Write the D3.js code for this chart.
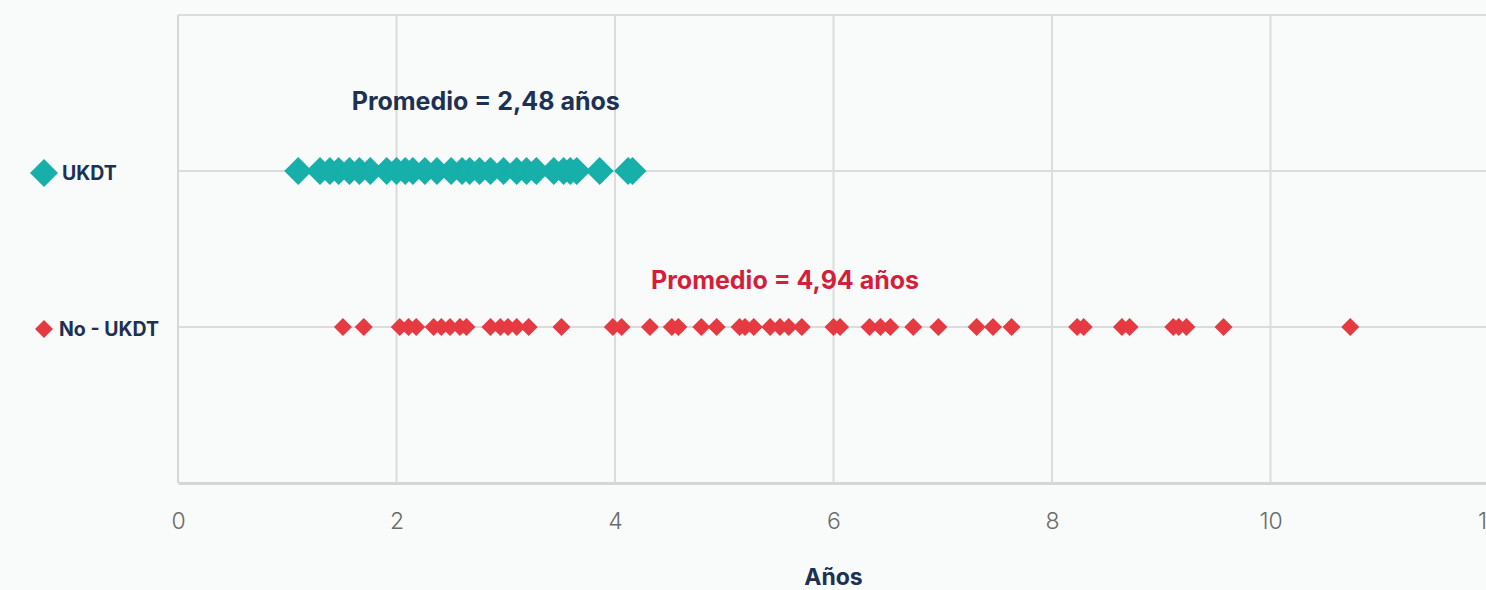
<!DOCTYPE html>
<html>
<head>
<meta charset="utf-8">
<script src="https://cdn.jsdelivr.net/npm/d3@7"></script>
<style>
  html, body { margin: 0; padding: 0; background: #f9fbfa; overflow: hidden; }
  svg { display: block; font-family: Inter, Roboto, sans-serif; }
</style>
</head>
<body>
<svg id="chart" width="1486" height="590"></svg>
<script>
const categories = ['UKDT', 'No - UKDT']
const ukdtValues = [1.10, 1.30, 1.39, 1.47, 1.57, 1.66, 1.76, 1.91, 2.00, 2.08, 2.15, 2.26, 2.37, 2.50,
  2.60, 2.67, 2.76, 2.86, 2.98, 3.10, 3.19, 3.28, 3.44, 3.53, 3.59, 3.65, 3.86, 4.12, 4.16]
const noUkdtValues = [1.51, 1.70, 2.03, 2.11, 2.18, 2.34, 2.41, 2.49, 2.58, 2.64, 2.86, 2.95, 3.02, 3.10,
  3.21, 3.51, 3.98, 4.06, 4.32, 4.52, 4.58, 4.79, 4.93, 5.14, 5.19, 5.27, 5.42, 5.51, 5.59, 5.71,
  6.00, 6.06, 6.33, 6.43, 6.52, 6.73, 6.96, 7.31, 7.46, 7.63, 8.23, 8.29, 8.64, 8.71, 9.11, 9.16,
  9.23, 9.57, 10.73]
const xTicks = [0, 2, 4, 6, 8, 10, 12]
const annotations = [
  { text: 'Promedio = 2,48 años', x: 1.59, row: 0, dy: -61 },
  { text: 'Promedio = 4,94 años', x: 4.33, row: 1, dy: -38 }
]

const colors = ['#17afa9', '#e63a42']
const textColors = ['#1d3154', '#d21f3a']
const navy = '#1d3154'

const svg = d3.select('#chart')
const margin = { left: 178, top: 15, bottom: 483 }

const x = d3.scaleLinear().domain([0, 12]).range([margin.left, 1489])
// rows sit on 1 and 2, with an empty band above and below
const y = d3.scaleLinear().domain([0, 3]).range([margin.top, margin.bottom])

const grid = svg.append('g').attr('class', 'grid')

grid.selectAll('line.vgrid')
  .data(xTicks.slice(1))
  .enter().append('line')
  .attr('class', 'vgrid')
  .attr('x1', d => x(d)).attr('x2', d => x(d))
  .attr('y1', y(0)).attr('y2', y(3))
  .attr('stroke', '#dcdcdc').attr('stroke-width', 2)

grid.selectAll('line.hgrid')
  .data([0, 1, 2])
  .enter().append('line')
  .attr('class', 'hgrid')
  .attr('x1', x(0)).attr('x2', 1486)
  .attr('y1', d => y(d)).attr('y2', d => y(d))
  .attr('stroke', '#dcdcdc').attr('stroke-width', 2)

// left border
grid.append('line')
  .attr('x1', x(0)).attr('x2', x(0))
  .attr('y1', y(0)).attr('y2', y(3))
  .attr('stroke', '#d6d6d6').attr('stroke-width', 2)

const xAxis = d3.axisBottom(x).tickValues(xTicks).tickSize(0).tickPadding(30)
const gx = svg.append('g')
  .attr('transform', `translate(0,${y(3)})`)
  .call(xAxis)
gx.select('.domain').attr('stroke', '#d6d6d6').attr('stroke-width', 3)
gx.selectAll('text')
  .attr('fill', '#6b6b6b')
  .style('font-size', '23px')
  .style('font-weight', 300)
  .style('font-family', 'Inter, Roboto, sans-serif')

svg.append('text')
  .attr('x', x(6)).attr('y', 585)
  .attr('text-anchor', 'middle')
  .attr('fill', navy)
  .style('font-size', '23px')
  .style('font-weight', 700)
  .text('Años')

const series = [
  { name: categories[0], values: ukdtValues, half: 14, gap: 4 },
  { name: categories[1], values: noUkdtValues, half: 9, gap: 6 }
]

const diamond = h => `M0,${-h}L${h},0L0,${h}L${-h},0Z`

series.forEach((s, i) => {
  const cy = y(i + 1)
  svg.append('g')
    .selectAll('path')
    .data(s.values)
    .enter().append('path')
    .attr('d', diamond(s.half))
    .attr('transform', d => `translate(${x(d)},${cy})`)
    .attr('fill', colors[i])

  // legend-style row label
  const lg = svg.append('g').attr('transform', `translate(44,${cy + 2})`)
  lg.append('path').attr('d', diamond(s.half)).attr('fill', colors[i])
  lg.append('text')
    .attr('x', s.half + s.gap).attr('y', 7)
    .attr('fill', navy)
    .style('font-size', '19.5px')
    .style('font-weight', 700)
    .text(s.name)
})

svg.selectAll('text.annot')
  .data(annotations)
  .enter().append('text')
  .attr('class', 'annot')
  .attr('x', d => x(d.x))
  .attr('y', d => y(d.row + 1) + d.dy)
  .attr('fill', d => textColors[d.row])
  .style('font-size', '25px')
  .style('font-weight', 700)
  .text(d => d.text)
</script>
</body>
</html>
